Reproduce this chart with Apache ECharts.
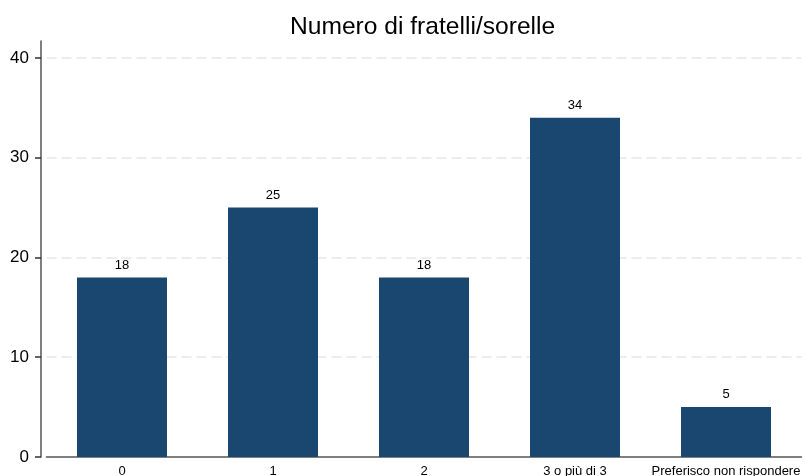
<!DOCTYPE html>
<html>
<head>
<meta charset="utf-8">
<script src="https://cdn.jsdelivr.net/npm/echarts@6/dist/echarts.min.js"></script>
<style>html,body{margin:0;padding:0;background:#fff}#c{width:806px;height:476px}</style>
</head>
<body>
<div id="c"></div>
<script>
const categories = ["0", "1", "2", "3 o più di 3", "Preferisco non rispondere"];
const values = [18, 25, 18, 34, 5];
const yTicks = [0, 10, 20, 30, 40];

const chart = echarts.init(document.getElementById('c'), null, {renderer: 'canvas'});
chart.setOption({
  animation: false,
  backgroundColor: '#ffffff',
  title: {
    text: 'Numero di fratelli/sorelle',
    left: 285, top: 10,
    textStyle: {fontFamily: 'Liberation Sans, Arial, sans-serif', fontSize: 24.6, fontWeight: 'normal', color: '#000'}
  },
  grid: {left: 46.5, right: 4.5, top: 41, bottom: 19, containLabel: false, outerBoundsMode: 'none'},
  xAxis: {
    type: 'category',
    data: categories,
    axisLine: {show: true, lineStyle: {color: '#555', width: 1.5}},
    axisTick: {show: false},
    axisLabel: {interval: 0, margin: 8, color: '#000', fontFamily: 'Liberation Sans, Arial, sans-serif', fontSize: 13}
  },
  yAxis: {
    type: 'value',
    min: 0, max: 41.7, interval: 10,
    offset: 5.5,
    axisLine: {show: true, lineStyle: {color: '#555', width: 1.5}},
    axisTick: {show: true, length: 6, customValues: yTicks, lineStyle: {color: '#333', width: 1.5}},
    axisLabel: {customValues: yTicks, margin: 12, color: '#000', fontFamily: 'Liberation Sans, Arial, sans-serif', fontSize: 17},
    splitLine: {show: true, showMinLine: false, lineStyle: {color: '#e8e8e8', type: [10, 5], width: 1.5}}
  },
  series: [{
    type: 'bar',
    data: values,
    barWidth: 90,
    itemStyle: {color: '#1a476f'},
    label: {show: true, position: 'top', distance: 6, color: '#000', fontFamily: 'Liberation Sans, Arial, sans-serif', fontSize: 13}
  }]
});
</script>
</body>
</html>
